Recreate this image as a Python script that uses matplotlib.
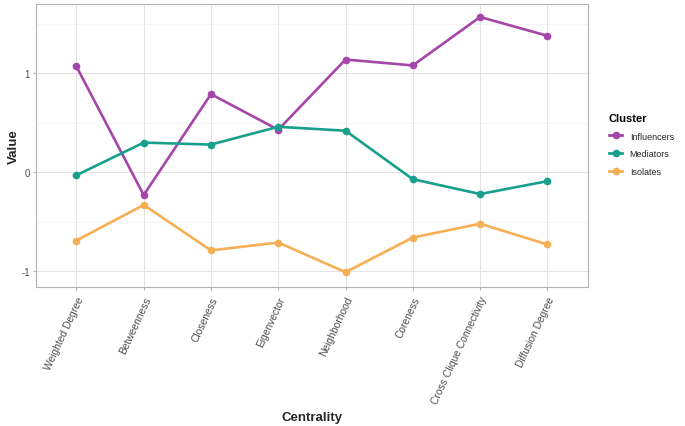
import matplotlib
matplotlib.use("Agg")
import matplotlib.pyplot as plt
from matplotlib.lines import Line2D

plt.rcParams['font.family'] = ['Liberation Sans', 'DejaVu Sans']

centralities = ["Weighted Degree", "Betweenness", "Closeness", "Eigenvector",
                "Neighborhood", "Coreness", "Cross Clique Connectivity", "Diffusion Degree"]
clusters = ["Influencers", "Mediators", "Isolates"]
influencers = [1.07, -0.23, 0.79, 0.43, 1.14, 1.08, 1.57, 1.38]
mediators = [-0.03, 0.30, 0.28, 0.46, 0.42, -0.07, -0.22, -0.09]
isolates = [-0.69, -0.33, -0.79, -0.71, -1.01, -0.66, -0.52, -0.73]
colors = ["#A546A8", "#18A08C", "#F5AF55"]

fig = plt.figure(figsize=(6.85, 4.27), dpi=100)
ax = fig.add_axes([0.0526, 0.3255, 0.8054, 0.6625])

x = list(range(len(centralities)))
for vals, name, col in zip([influencers, mediators, isolates], clusters, colors):
    ax.plot(x, vals, color=col, lw=1.9, marker="o", ms=4.5, label=name, zorder=3)

ax.set_xlim(-0.6, len(centralities) - 0.4)
ax.set_ylim(-1.16, 1.70)
ax.set_yticks([-1, 0, 1])
ax.set_yticklabels(["-1", "0", "1"])
ax.set_yticks([-0.5, 0.5, 1.5], minor=True)
ax.set_xticks(x)
ax.set_xticklabels(centralities, rotation=65, ha="right", rotation_mode="anchor",
                   fontsize=7.4, color="#4d4d4d")

ax.grid(True, which="major", color="#e3e3e3", lw=0.7)
ax.grid(True, which="minor", axis="y", color="#f0f0f0", lw=0.5)
ax.set_axisbelow(True)
for s in ax.spines.values():
    s.set_color("#b3b3b3")
    s.set_linewidth(0.8)
ax.tick_params(axis="both", which="major", length=2.5, color="#b3b3b3", labelsize=7,
               labelcolor="#4d4d4d", pad=2)
ax.tick_params(axis="x", which="major", labelsize=7.4, pad=3)
ax.tick_params(axis="y", which="minor", length=0)

ax.set_xlabel("Centrality", fontsize=9.5, fontweight="bold", color="#262626")
ax.set_ylabel("Value", fontsize=9.5, fontweight="bold", color="#262626")
ax.xaxis.set_label_coords(0.5, -0.437)
ax.yaxis.set_label_coords(-0.03, 0.5)

handles = [Line2D([0], [0], color=c, lw=2, marker="o", ms=4.5) for c in colors]
leg = fig.legend(handles, clusters, title="Cluster", loc="upper left",
                 bbox_to_anchor=(0.877, 0.752), frameon=False, fontsize=6.5,
                 handlelength=1.5, labelspacing=0.95, handletextpad=0.8,
                 title_fontproperties={"weight": "bold", "size": 8})
leg._legend_box.align = "left"
for t in leg.get_texts():
    t.set_color("#262626")

fig.savefig("out.png", dpi=100)
